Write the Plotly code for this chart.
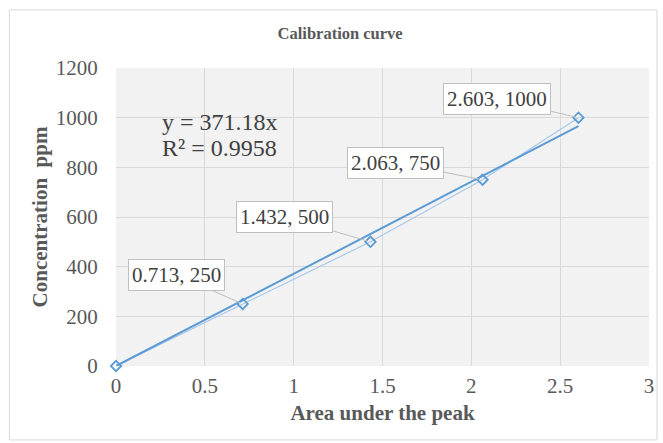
import plotly.graph_objects as go

area = [0, 0.713, 1.432, 2.063, 2.603]
conc = [0, 250, 500, 750, 1000]
labels = ["", "0.713, 250", "1.432, 500", "2.063, 750", "2.603, 1000"]
label_offsets = [None, (-66, -29), (-86, -25), (-87, -17), (-81, -19)]
slope = 371.18
r2 = 0.9958
x_ticks = [0, 0.5, 1, 1.5, 2, 2.5, 3]
y_ticks = [0, 200, 400, 600, 800, 1000, 1200]

FONT = "Liberation Serif, Times New Roman, serif"

fig = go.Figure()
fig.add_trace(go.Scatter(
    x=area, y=conc, mode="lines+markers", cliponaxis=False,
    line=dict(color="#a9c8ea", width=1.2),
    marker=dict(symbol="diamond-open", size=8, color="#5b9bd5", line=dict(width=1.8)),
    showlegend=False, hoverinfo="x+y"))
trend_x = [0, max(area)]
trend_y = [slope * v for v in trend_x]
fig.add_trace(go.Scatter(
    x=trend_x, y=trend_y, mode="lines",
    line=dict(color="#5b9bd5", width=2), showlegend=False, hoverinfo="skip"))

for xv, yv, lab, off in zip(area, conc, labels, label_offsets):
    if not lab:
        continue
    fig.add_annotation(x=xv, y=yv, text=lab, showarrow=True, arrowhead=0,
                       arrowwidth=1, arrowcolor="#bfbfbf", ax=off[0], ay=off[1],
                       bgcolor="white", bordercolor="#bfbfbf", borderwidth=1, borderpad=3,
                       font=dict(family=FONT, size=21, color="#404040"), standoff=3)

fig.add_annotation(x=0.585, y=983, xref="x", yref="y", text=f"y = {slope}x", showarrow=False,
                   font=dict(family=FONT, size=24, color="#404040"))
fig.add_annotation(x=0.585, y=878, xref="x", yref="y", text=f"R² = {r2}", showarrow=False,
                   font=dict(family=FONT, size=24, color="#404040"))

fig.add_shape(type="rect", xref="paper", yref="paper", x0=-0.2, x1=1.015, y0=-0.248, y1=1.195,
              line=dict(color="#d9d9d9", width=1), layer="below")

fig.update_layout(
    width=663, height=443,
    margin=dict(l=116, r=9, t=68, b=77),
    paper_bgcolor="white", plot_bgcolor="#f2f2f2",
    font=dict(family=FONT, color="#595959"),
    title=dict(text="<b>Calibration curve</b>", x=0.513, xanchor="center", y=0.925, yanchor="middle",
               font=dict(family=FONT, size=16.5, color="#595959")),
    xaxis=dict(range=[0, 3], tickvals=x_ticks, ticktext=[str(v) for v in x_ticks],
               showgrid=True, gridcolor="#d9d9d9", zeroline=False, showline=False,
               ticks="outside", ticklen=1, tickcolor="rgba(0,0,0,0)",
               tickfont=dict(family=FONT, size=21, color="#595959"),
               title=dict(text="<b>Area under the peak</b>", standoff=8,
                          font=dict(family=FONT, size=21, color="#595959"))),
    yaxis=dict(range=[0, 1200], tickvals=y_ticks, ticktext=[str(v) for v in y_ticks],
               showgrid=True, gridcolor="#d9d9d9", zeroline=False, showline=False,
               ticks="outside", ticklen=13, tickcolor="rgba(0,0,0,0)",
               tickfont=dict(family=FONT, size=21, color="#595959"),
               title=dict(text="<b>Concentration  ppm</b>", standoff=2,
                          font=dict(family=FONT, size=21, color="#595959"))),
)

fig.write_html("out.html", config={"displayModeBar": False},
               post_script="document.body.style.margin='0';document.body.style.overflow='hidden';")
